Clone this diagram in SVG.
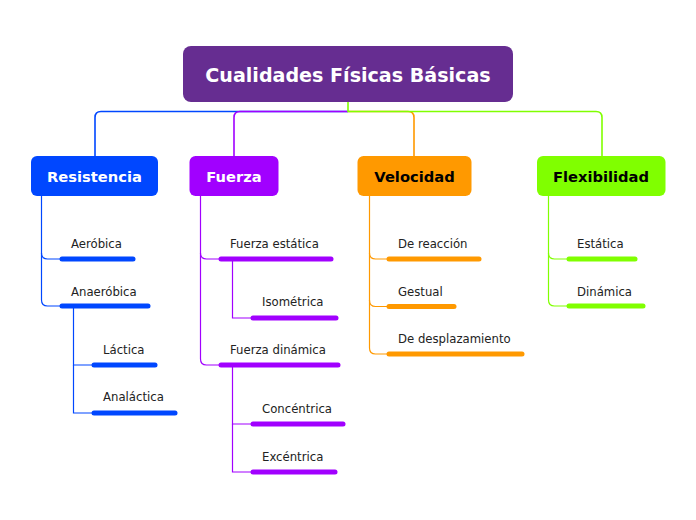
<svg xmlns="http://www.w3.org/2000/svg" width="696" height="520" viewBox="0 0 696 520">
<style>
.ln{fill:none;stroke-width:1.6}
.sl{fill:none;stroke-width:1.2}
.bar{stroke-width:5;stroke-linecap:round;fill:none}
.t{font-family:"DejaVu Sans",Verdana,sans-serif;font-size:11.7px;fill:#222}
.h{font-family:"DejaVu Sans",Verdana,sans-serif;font-weight:bold;font-size:14.7px;text-anchor:middle}
.b{stroke:#0047FF}.p{stroke:#A100FF}.o{stroke:#FF9900}.g{stroke:#80FF00}
</style>
<rect width="696" height="520" fill="#fff"/>
<g id="connectors">
<path class="ln b" d="M348,111.5 H101 Q95,111.5 95,117.5 V156"/>
<path class="ln p" d="M348,111.5 H240 Q234,111.5 234,117.5 V156"/>
<path class="ln o" d="M348,111.5 H408 Q414,111.5 414,117.5 V156"/>
<path class="ln g" d="M348,102 V111.5 H596 Q602,111.5 602,117.5 V156"/>
<g class="b">
<path class="sl" d="M41.5,196 V253 Q41.5,259 47.5,259 H60"/>
<path class="sl" d="M41.5,253 V300 Q41.5,306 47.5,306 H60"/>
<path class="sl" d="M73.5,306 V365 H92"/>
<path class="sl" d="M73.5,365 V413 H92"/>
</g>
<g class="p">
<path class="sl" d="M200.5,196 V253 Q200.5,259 206.5,259 H219"/>
<path class="sl" d="M200.5,253 V359 Q200.5,365 206.5,365 H219"/>
<path class="sl" d="M232.5,259 V318 H251"/>
<path class="sl" d="M232.5,365 V424 H251"/>
<path class="sl" d="M232.5,424 V472 H251"/>
</g>
<g class="o">
<path class="sl" d="M369.5,196 V253 Q369.5,259 375.5,259 H387"/>
<path class="sl" d="M369.5,253 V300.5 Q369.5,306.5 375.5,306.5 H387"/>
<path class="sl" d="M369.5,300 V348 Q369.5,354 375.5,354 H387"/>
</g>
<g class="g">
<path class="sl" d="M548.5,196 V253 Q548.5,259 554.5,259 H567"/>
<path class="sl" d="M548.5,253 V300 Q548.5,306 554.5,306 H567"/>
</g>
</g>
<g id="root">
<rect x="183" y="46" width="330" height="56" rx="8" fill="#662D91"/>
<text x="348" y="82" font-family="DejaVu Sans,Verdana,sans-serif" font-weight="bold" font-size="19.1" fill="#fff" text-anchor="middle">Cualidades Físicas Básicas</text>
</g>
<g id="resistencia">
<rect x="31" y="156" width="127" height="40" rx="6" fill="#0047FF"/>
<text class="h" x="94.5" y="182" fill="#fff">Resistencia</text>
</g>
<g id="fuerza">
<rect x="189.5" y="156" width="89" height="40" rx="6" fill="#A100FF"/>
<text class="h" x="234" y="182" fill="#fff">Fuerza</text>
</g>
<g id="velocidad">
<rect x="357.5" y="156" width="114" height="40" rx="6" fill="#FF9900"/>
<text class="h" x="414.5" y="182" fill="#000">Velocidad</text>
</g>
<g id="flexibilidad">
<rect x="537" y="156" width="128.5" height="40" rx="6" fill="#80FF00"/>
<text class="h" x="601" y="182" fill="#000">Flexibilidad</text>
</g>
<g id="aerobica"><text class="t" x="71" y="248">Aeróbica</text><path class="bar b" d="M62,259 H133"/></g>
<g id="anaerobica"><text class="t" x="71" y="296">Anaeróbica</text><path class="bar b" d="M62,306 H148"/></g>
<g id="lactica"><text class="t" x="103" y="354">Láctica</text><path class="bar b" d="M94,365 H155"/></g>
<g id="analactica"><text class="t" x="103" y="401">Analáctica</text><path class="bar b" d="M94,413 H175"/></g>
<g id="fuerza-estatica"><text class="t" x="230" y="248">Fuerza estática</text><path class="bar p" d="M221,259 H331"/></g>
<g id="isometrica"><text class="t" x="262" y="306">Isométrica</text><path class="bar p" d="M253,318 H336"/></g>
<g id="fuerza-dinamica"><text class="t" x="230" y="354">Fuerza dinámica</text><path class="bar p" d="M221,365 H338"/></g>
<g id="concentrica"><text class="t" x="262" y="413">Concéntrica</text><path class="bar p" d="M253,424 H343"/></g>
<g id="excentrica"><text class="t" x="262" y="461">Excéntrica</text><path class="bar p" d="M253,472 H335"/></g>
<g id="de-reaccion"><text class="t" x="398" y="248">De reacción</text><path class="bar o" d="M389,259 H479"/></g>
<g id="gestual"><text class="t" x="398" y="296">Gestual</text><path class="bar o" d="M389,306.5 H454"/></g>
<g id="de-desplazamiento"><text class="t" x="398" y="343">De desplazamiento</text><path class="bar o" d="M389,354 H522"/></g>
<g id="estatica"><text class="t" x="577" y="248">Estática</text><path class="bar g" d="M569,259 H635"/></g>
<g id="dinamica"><text class="t" x="577" y="296">Dinámica</text><path class="bar g" d="M569,306 H643"/></g>
</svg>
